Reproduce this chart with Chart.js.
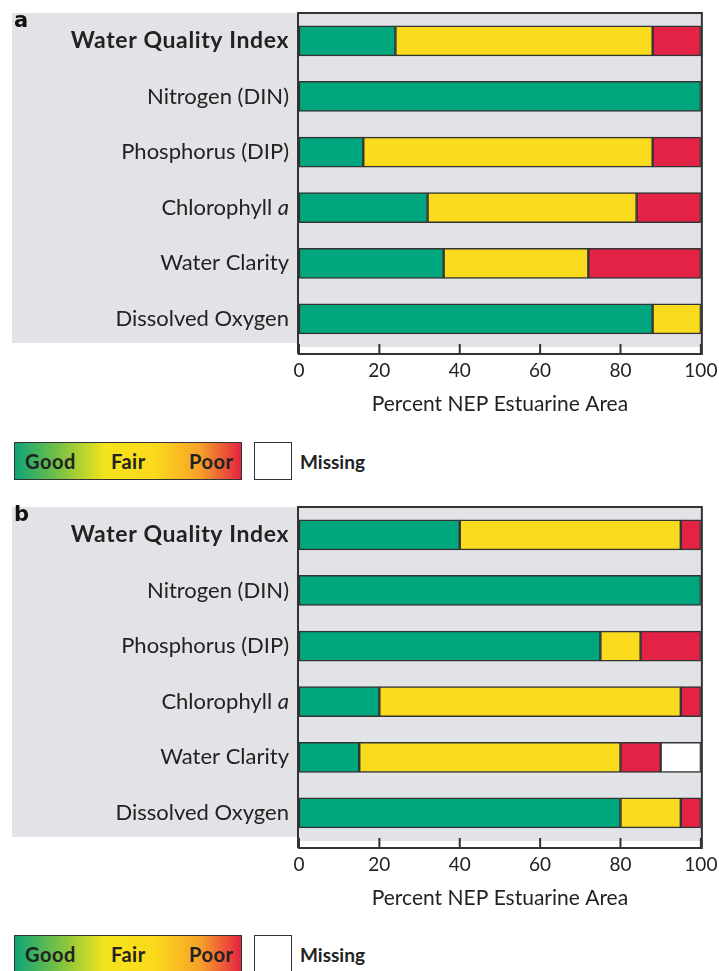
<!DOCTYPE html>
<html>
<head>
<meta charset="utf-8">
<script src="https://cdn.jsdelivr.net/npm/chart.js@4.4.0/dist/chart.umd.min.js"></script>
<style>
body{margin:0;background:#fff;width:719px;height:971px;overflow:hidden;position:relative;font-family:Lato,sans-serif;color:#222}
canvas{position:absolute;left:0}
.lgbox{position:absolute;left:14px;width:226px;height:36px;border:1.5px solid #333;
  background:linear-gradient(to right,#0ea576 0%,#7cc242 20%,#f4e41c 40%,#fbd91c 62%,#f6a12a 82%,#e4233f 100%)}
.lgbox span{position:absolute;top:6px;font-weight:bold;font-size:20px;letter-spacing:0.5px;color:#222}
.miss{position:absolute;left:254px;width:36px;height:36px;border:1.5px solid #333;background:#fff}
.misstxt{position:absolute;left:300px;font-weight:bold;font-size:19px;color:#222}
</style>
</head>
<body>
<canvas id="chartA" width="723" height="430" style="top:0"></canvas>
<canvas id="chartB" width="723" height="430" style="top:494px"></canvas>

<div class="lgbox" style="top:442px"><span style="left:10px">Good</span><span style="left:96px">Fair</span><span style="left:174px">Poor</span></div>
<div class="miss" style="top:442px"></div>
<div class="misstxt" style="top:450px">Missing</div>

<div class="lgbox" style="top:935px"><span style="left:10px">Good</span><span style="left:96px">Fair</span><span style="left:174px">Poor</span></div>
<div class="miss" style="top:935px"></div>
<div class="misstxt" style="top:943px">Missing</div>

<script>
var categories = ['Water Quality Index', 'Nitrogen (DIN)', 'Phosphorus (DIP)', 'Chlorophyll a', 'Water Clarity', 'Dissolved Oxygen'];
var xTicks = [0, 20, 40, 60, 80, 100];

// panel a
var goodA = [24, 100, 16, 32, 36, 88];
var fairA = [64, 0, 72, 52, 36, 12];
var poorA = [12, 0, 12, 16, 28, 0];
var missingA = [0, 0, 0, 0, 0, 0];

// panel b
var goodB = [40, 100, 75, 20, 15, 80];
var fairB = [55, 0, 10, 75, 65, 15];
var poorB = [5, 0, 15, 5, 10, 5];
var missingB = [0, 0, 0, 0, 10, 0];

var colors = {good: '#00a67e', fair: '#fadb1e', poor: '#e22346', missing: '#ffffff'};
var GRAY = '#e1e3e6';
var LINE = '#333333';

function series(vals) {
  return vals.map(function (v, i) { return v ? {x: v, y: i} : null; }).filter(function (p) { return p; });
}

function ds(label, vals, color) {
  return {
    label: label,
    data: series(vals),
    backgroundColor: color,
    borderColor: LINE,
    borderWidth: 1.5,
    borderSkipped: false,
    barThickness: 30
  };
}

var panelPlugin = {
  id: 'panel',
  beforeDraw: function (chart) {
    var c = chart.ctx, a = chart.chartArea;
    c.save();
    c.fillStyle = GRAY;
    c.fillRect(12, a.top, a.left - 13, a.bottom - a.top - 11);
    c.fillRect(a.left, a.top, a.right - a.left, a.bottom - a.top - 7);
    c.fillStyle = '#111';
    c.font = 'bold 21px "DejaVu Sans"';
    c.textBaseline = 'middle';
    c.fillText(chart.options.plugins.panel.letter, 14, a.top + 9);
    c.restore();
  },
  afterDatasetsDraw: function (chart) {
    var c = chart.ctx, a = chart.chartArea;
    var xs = chart.scales.x, ys = chart.scales.y;
    c.save();
    c.strokeStyle = LINE;
    c.lineWidth = 2;
    c.beginPath();
    c.moveTo(a.left - 1, a.bottom);
    c.lineTo(a.left - 1, a.top);
    c.lineTo(a.right + 1, a.top);
    c.lineTo(a.right + 1, a.bottom);
    c.lineTo(a.left - 1, a.bottom);
    xTicks.forEach(function (t) {
      var px = xs.getPixelForValue(t);
      c.moveTo(px, a.bottom);
      c.lineTo(px, a.bottom - 10);
    });
    c.stroke();

    c.fillStyle = '#222';
    c.textBaseline = 'middle';
    categories.forEach(function (lab, i) {
      var py = ys.getPixelForValue(i);
      var right = a.left - 10;
      c.letterSpacing = '0px';
      if (i === 0) {
        c.font = 'bold 23px Lato';
        c.letterSpacing = '0.6px';
        c.textAlign = 'right';
        c.fillText(lab, right, py);
      } else if (/ [a-z]$/.test(lab)) {
        var head = lab.slice(0, -1), tail = lab.slice(-1);
        c.font = 'italic 22px Lato';
        var tw = c.measureText(tail).width;
        c.textAlign = 'right';
        c.fillText(tail, right, py);
        c.font = '22px Lato';
        c.fillText(head, right - tw, py);
      } else {
        c.font = '22px Lato';
        c.textAlign = 'right';
        c.fillText(lab, right, py);
      }
    });
    c.restore();
  }
};

function makeChart(id, letter, good, fair, poor, missing) {
  return new Chart(document.getElementById(id), {
    type: 'bar',
    data: {
      datasets: [
        ds('Good', good, colors.good),
        ds('Fair', fair, colors.fair),
        ds('Poor', poor, colors.poor),
        ds('Missing', missing, colors.missing)
      ]
    },
    options: {
      indexAxis: 'y',
      responsive: false,
      animation: false,
      layout: {padding: {top: 13, left: 299, right: 13, bottom: 13.4}},
      plugins: {legend: {display: false}, tooltip: {enabled: false}, panel: {letter: letter}},
      scales: {
        x: {
          type: 'linear',
          stacked: true,
          min: 0,
          max: 100,
          afterBuildTicks: function (s) { s.ticks = xTicks.map(function (v) { return {value: v}; }); },
          grid: {display: false, drawTicks: false},
          border: {display: false},
          ticks: {padding: 5.6, color: '#222', font: {family: 'Lato', size: 19}},
          title: {display: true, text: 'Percent NEP Estuarine Area', color: '#222', padding: {top: 3.4, bottom: 0}, font: {family: 'Lato', size: 21}}
        },
        y: {
          type: 'linear',
          stacked: true,
          reverse: true,
          offset: false,
          min: -0.5,
          max: 5.63,
          display: false
        }
      }
    },
    plugins: [panelPlugin]
  });
}

makeChart('chartA', 'a', goodA, fairA, poorA, missingA);
makeChart('chartB', 'b', goodB, fairB, poorB, missingB);
</script>
</body>
</html>
